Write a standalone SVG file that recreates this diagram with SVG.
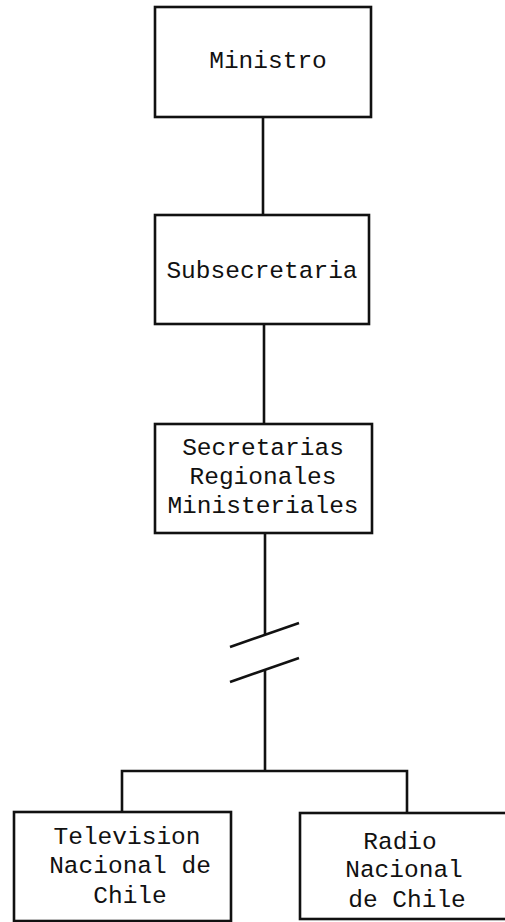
<svg xmlns="http://www.w3.org/2000/svg" width="505" height="922" viewBox="0 0 505 922">
<style>
.box{fill:#fff;stroke:#111;stroke-width:2.6}
.ln{fill:none;stroke:#111;stroke-width:2.6;stroke-linecap:butt}
.t{font-family:"Liberation Mono","DejaVu Sans Mono",monospace;font-size:24.5px;fill:#111;text-anchor:middle}
</style>
<rect width="505" height="922" fill="#fff"/>
<g id="connectors">
<line class="ln" x1="263" y1="117" x2="263" y2="215"/>
<line class="ln" x1="264" y1="324" x2="264" y2="424"/>
<line class="ln" x1="265" y1="533" x2="265" y2="635"/>
<line class="ln" x1="230" y1="647" x2="299" y2="623"/>
<line class="ln" x1="230" y1="682" x2="299" y2="658"/>
<line class="ln" x1="265" y1="670" x2="265" y2="771"/>
<polyline class="ln" points="122,812 122,771 407,771 407,813"/>
</g>
<g id="ministro">
<rect class="box" x="155" y="7" width="216" height="110"/>
<text class="t" x="268" y="68">Ministro</text>
</g>
<g id="subsecretaria">
<rect class="box" x="155" y="215" width="214" height="109"/>
<text class="t" x="262" y="278">Subsecretaria</text>
</g>
<g id="secretarias">
<rect class="box" x="155" y="424" width="217" height="109"/>
<text class="t" x="263" y="455">Secretarias</text>
<text class="t" x="263" y="484">Regionales</text>
<text class="t" x="263" y="513">Ministeriales</text>
</g>
<g id="television">
<rect class="box" x="14" y="812" width="217" height="109"/>
<text class="t" x="127" y="844">Television</text>
<text class="t" x="130" y="873">Nacional de</text>
<text class="t" x="130" y="903">Chile</text>
</g>
<g id="radio">
<rect class="box" x="300" y="813" width="217" height="106"/>
<text class="t" x="400" y="849">Radio</text>
<text class="t" x="404" y="877">Nacional</text>
<text class="t" x="407" y="907">de Chile</text>
</g>
</svg>
